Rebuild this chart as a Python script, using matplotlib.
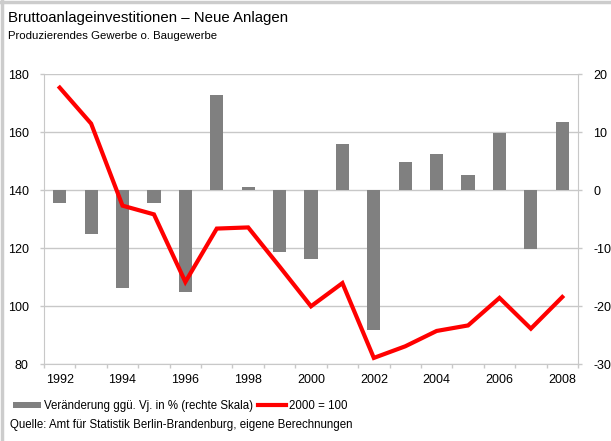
import numpy as np
import matplotlib.pyplot as plt
from matplotlib.patches import Patch
from matplotlib.lines import Line2D

plt.rcParams["font.family"] = ["Liberation Sans", "DejaVu Sans"]
plt.rcParams["axes.unicode_minus"] = False

# data
years = list(range(1992, 2009))
change_pct = [-2.2, -7.5, -16.9, -2.2, -17.5, 16.5, 0.5, -10.7, -11.9, 7.9,
              -24.0, 4.8, 6.3, 2.6, 9.9, -10.2, 11.7]
index_2000 = [175.4, 163.0, 134.7, 131.7, 108.4, 126.8, 127.2, 113.7, 100.0, 108.0,
              82.2, 86.2, 91.5, 93.4, 102.9, 92.3, 103.2]
year_labels = [str(y) for y in years]

title = "Bruttoanlageinvestitionen \u2013 Neue Anlagen"
subtitle = "Produzierendes Gewerbe o. Baugewerbe"
bar_label = "Veränderung ggü. Vj. in % (rechte Skala)"
line_label = "2000 = 100"
source = "Quelle: Amt für Statistik Berlin-Brandenburg, eigene Berechnungen"

grid_col = "#c8c8c8"
bar_col = "#808080"

fig = plt.figure(figsize=(6.11, 4.41), dpi=100)
ax = fig.add_axes([44 / 611, 1 - 364.3 / 441, (578 - 44) / 611, 290 / 441])
ax2 = ax.twinx()
ax.set_zorder(ax2.get_zorder() + 1)
ax.patch.set_visible(False)

x = np.arange(len(years))

# bars on the right scale
ax2.bar(x, change_pct, width=0.42, color=bar_col, zorder=2)
ax2.set_ylim(-30, 20)
ax2.set_yticks(range(-30, 21, 10))
ax2.grid(axis="y", color=grid_col, linewidth=1, zorder=0)
ax2.set_xticks(np.arange(-0.5, len(years)), minor=True)
ax2.grid(axis="x", which="minor", color=grid_col, linewidth=1, zorder=0)
ax2.set_axisbelow(True)

# index line on the left scale
ax.plot(x, index_2000, color="#ff0000", linewidth=3, solid_joinstyle="miter")
ax.set_ylim(80, 180)
ax.set_yticks(range(80, 181, 20))
ax.set_xlim(-0.5, len(years) - 0.5)
ax.set_xticks(x[::2])
ax.set_xticklabels(year_labels[::2])

for a in (ax, ax2):
    for s in a.spines.values():
        s.set_visible(False)
    a.tick_params(axis="both", which="both", labelsize=9, colors=grid_col,
                  labelcolor="black", length=3, width=1)
ax.tick_params(axis="x", length=0, pad=7)
ax.tick_params(axis="y", pad=8)
ax2.tick_params(axis="y", pad=8)
ax2.tick_params(axis="x", which="both", length=0)
ax.spines["left"].set_visible(True)
ax.spines["left"].set_color(grid_col)
ax.spines["bottom"].set_visible(True)
ax.spines["bottom"].set_color(grid_col)
ax2.spines["right"].set_visible(True)
ax2.spines["right"].set_color(grid_col)

# titles
fig.text(8 / 611, 1 - 18 / 441, title, fontsize=10.8, va="center", ha="left")
fig.text(8 / 611, 1 - 36 / 441, subtitle, fontsize=8.2, va="center", ha="left")

# legend
handles = [Patch(facecolor=bar_col, edgecolor="none"),
           Line2D([0], [0], color="#ff0000", linewidth=3)]
fig.legend(handles, [bar_label, line_label], ncol=2, frameon=False,
           fontsize=8.3, loc="center left", bbox_to_anchor=(13 / 611, 1 - 406 / 441),
           handlelength=2.4, handleheight=0.5, handletextpad=0.25,
           columnspacing=0.5, borderaxespad=0, borderpad=0)

fig.text(10 / 611, 1 - 425 / 441, source, fontsize=8.3, va="center", ha="left")

# light frame on top and left edges
fig.add_artist(Line2D([0, 1], [1 - 1.5 / 441] * 2, color="#cccccc", linewidth=2.5,
                      transform=fig.transFigure))
fig.add_artist(Line2D([1.5 / 611] * 2, [0, 1], color="#cccccc", linewidth=2.5,
                      transform=fig.transFigure))

fig.savefig("out.png", dpi=100)
